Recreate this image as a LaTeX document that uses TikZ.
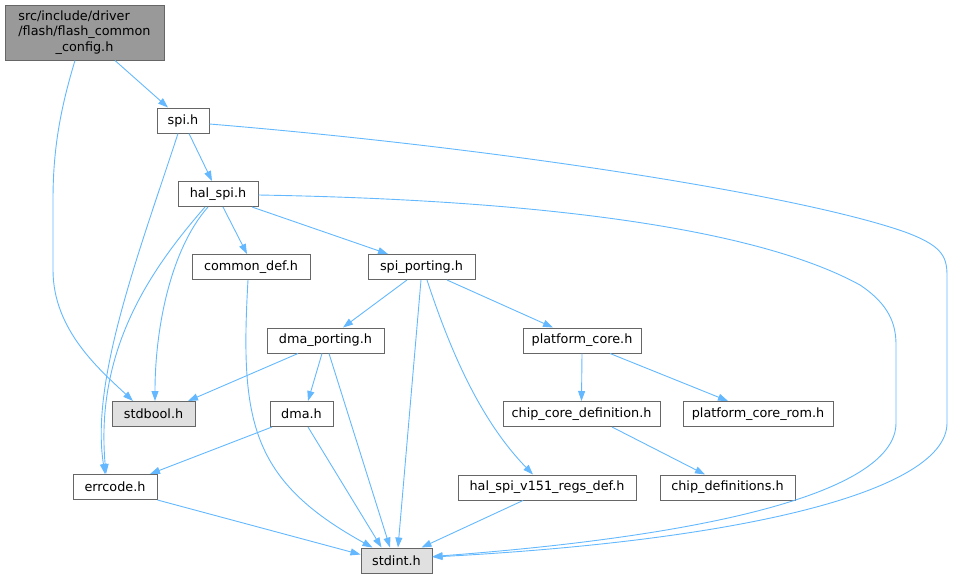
\documentclass[tikz,border=0pt]{standalone}
\usepackage{fontspec}
\setmainfont{DejaVu Sans}
\usetikzlibrary{arrows.meta}
\definecolor{edgec}{HTML}{63B8FF}
\definecolor{boxc}{HTML}{666666}
\definecolor{lightf}{HTML}{E0E0E0}
\definecolor{darkf}{HTML}{999999}
\tikzset{
  filebox/.style={draw=boxc, line width=1pt, fill=white, rectangle, inner sep=0pt,
    minimum height=25pt, font=\fontsize{12.8}{15.5}\selectfont},
  sysbox/.style={filebox, fill=lightf},
  rootbox/.style={filebox, fill=darkf},
  dep/.style={draw=edgec, line width=0.9pt, -{Triangle[length=10pt,width=7pt]}, fill=none},
}
\begin{document}
\begin{tikzpicture}[x=1pt,y=-1pt]
\useasboundingbox (0,0) rectangle (953,579);
% nodes
\node[rootbox, minimum width=159pt, minimum height=55pt] (flash) at (84.5,32.5)
  {\fontsize{12.8}{15.5}\selectfont\begin{tabular}{@{}l@{}}src/include/driver\\/flash/flash\_common\\\multicolumn{1}{@{}c@{}}{\_config.h}\end{tabular}};
\node[filebox, minimum width=52pt] (spi) at (183,120.5) {spi.h};
\node[filebox, minimum width=80pt] (halspi) at (218,194) {hal\_spi.h};
\node[filebox, minimum width=118pt] (commondef) at (251,267) {common\_def.h};
\node[filebox, minimum width=107pt] (spiporting) at (421.5,267) {spi\_porting.h};
\node[filebox, minimum width=117pt] (dmaporting) at (325.5,340.5) {dma\_porting.h};
\node[filebox, minimum width=118pt] (platcore) at (582,340.5) {platform\_core.h};
\node[filebox, minimum width=157pt] (chipcore) at (581.5,414) {chip\_core\_definition.h};
\node[filebox, minimum width=150pt] (platrom) at (758,414) {platform\_core\_rom.h};
\node[sysbox, minimum width=83pt] (stdbool) at (153.5,414) {stdbool.h};
\node[filebox, minimum width=63pt] (dma) at (301.5,414) {dma.h};
\node[filebox, minimum width=84pt] (errcode) at (115,487) {errcode.h};
\node[filebox, minimum width=178pt] (regsdef) at (547,487.5) {hal\_spi\_v151\_regs\_def.h};
\node[filebox, minimum width=135pt] (chipdefs) at (727.5,487.5) {chip\_definitions.h};
\node[sysbox, minimum width=71pt] (stdint) at (396.5,560.5) {stdint.h};
% edges
\draw[dep] ([xshift=30.5pt]flash.south) -- ([xshift=-15pt]spi.north);
\draw[dep] ([xshift=-9.5pt]flash.south) .. controls (60,110) and (53,150) .. (53,200) -- (53,270) .. controls (53,330) and (100,370) .. ([xshift=-20.5pt]stdbool.north);
\draw[dep] ([xshift=-5pt]spi.south) .. controls (140,250) and (90,380) .. ([xshift=-10pt]errcode.north);
\draw[dep] ([xshift=6pt]spi.south) -- ([xshift=-6pt]halspi.north);
\draw[dep] ([yshift=-3.5pt]spi.east) .. controls (500,148) and (800,195) .. (905,232) .. controls (940,245) and (947,255) .. (947,275) -- (947,423) .. controls (947,490) and (750,540) .. ([yshift=3.5pt]stdint.east);
\draw[dep] ([xshift=-13pt]halspi.south) .. controls (150,270) and (95,350) .. ([xshift=-9pt]errcode.north);
\draw[dep] ([xshift=-10pt]halspi.south) .. controls (170,250) and (155,330) .. ([xshift=1.5pt]stdbool.north);
\draw[dep] ([xshift=5pt]halspi.south) -- ([xshift=-4pt]commondef.north);
\draw[dep] ([xshift=34pt]halspi.south) -- ([xshift=-33.5pt]spiporting.north);
\draw[dep] ([yshift=-1pt]halspi.east) .. controls (550,200) and (760,230) .. (860,285) .. controls (890,305) and (896,325) .. (896,345) -- (896,423) .. controls (896,490) and (720,535) .. ([yshift=4pt]stdint.east);
\draw[dep] ([xshift=-3pt]commondef.south) .. controls (240,420) and (250,480) .. ([xshift=-24pt]stdint.north);
\draw[dep] ([xshift=-14.5pt]spiporting.south) -- ([xshift=17.5pt]dmaporting.north);
\draw[dep] ([xshift=-0.5pt]spiporting.south) -- ([xshift=1.5pt]stdint.north);
\draw[dep] ([xshift=5.5pt]spiporting.south) .. controls (450,350) and (480,420) .. ([xshift=-14pt]regsdef.north);
\draw[dep] ([xshift=25.5pt]spiporting.south) -- ([xshift=-29pt]platcore.north);
\draw[dep] ([xshift=-27.5pt]dmaporting.south) -- ([xshift=34.5pt]stdbool.north);
\draw[dep] ([xshift=-3.5pt]dmaporting.south) -- ([xshift=6.5pt]dma.north);
\draw[dep] ([xshift=3.5pt]dmaporting.south) -- ([xshift=-6.5pt]stdint.north);
\draw[dep] ([xshift=-29.5pt]dma.south) -- ([xshift=35pt]errcode.north);
\draw[dep] ([xshift=6.5pt]dma.south) -- ([xshift=-15pt]stdint.north);
\draw[dep] (errcode.south east) -- ([yshift=6pt]stdint.west);
\draw[dep] ([xshift=-24pt]regsdef.south) -- ([xshift=25pt]stdint.north);
\draw[dep] (platcore.south) -- (chipcore.north);
\draw[dep] ([xshift=28pt]platcore.south) -- ([xshift=-30pt]platrom.north);
\draw[dep] ([xshift=30.5pt]chipcore.south) -- ([xshift=-22.5pt]chipdefs.north);
\end{tikzpicture}
\end{document}
